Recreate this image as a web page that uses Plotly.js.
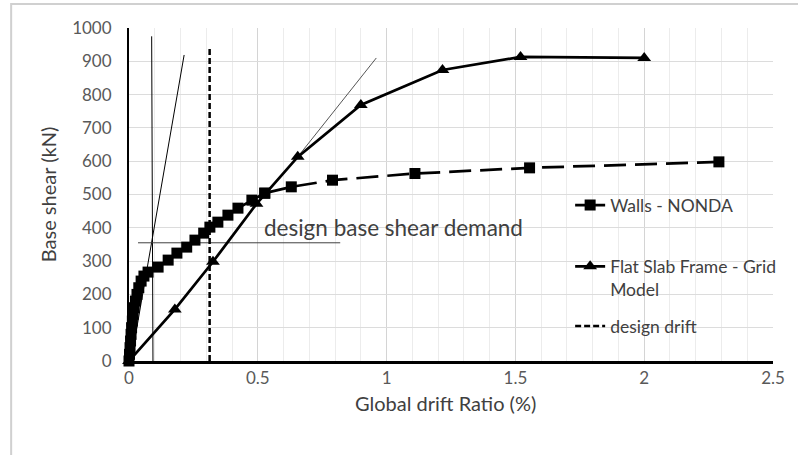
<!DOCTYPE html>
<html>
<head>
<meta charset="utf-8">
<script src="https://cdn.plot.ly/plotly-3.0.1.min.js"></script>
<style>html,body{margin:0;padding:0;background:#fff;}#chart{width:798px;height:455px;}</style>
</head>
<body>
<div id="chart"></div>
<script>
// Walls - NONDA (drift %, base shear kN)
const wallsX = [0, 0.002, 0.004, 0.006, 0.008, 0.010, 0.013, 0.016, 0.020, 0.025, 0.031, 0.038, 0.047, 0.058, 0.074, 0.113, 0.152, 0.186, 0.224, 0.256, 0.290, 0.314, 0.345, 0.384, 0.423, 0.477, 0.527, 0.630, 0.790, 1.110, 1.555, 2.290];
const wallsY = [0, 20, 40, 60, 80, 100, 120, 140, 160, 180, 200, 220, 240, 255, 267, 282, 303, 324, 342, 363, 384, 402, 417, 438, 459, 483, 504, 523, 543, 563, 580, 598];
const wallsSolidEnd = 26; // index where the dashed part begins

// Flat Slab Frame - Grid Model
const slabX = [0, 0.178, 0.326, 0.495, 0.655, 0.900, 1.217, 1.520, 2.000];
const slabY = [0, 155, 298, 472, 613, 769, 874, 913, 910];

// design drift
const driftX = [0.313, 0.313];
const driftY = [0, 940];

// reference stiffness lines
const tan1X = [0.093, 0.088];
const tan1Y = [0, 975];
const tan2X = [0.008, 0.214];
const tan2Y = [0, 919];
const tan3X = [0.655, 0.960];
const tan3Y = [613, 910];

// design base shear demand
const demandX = [0.035, 0.820];
const demandY = [355, 355];
const demandLabel = 'design base shear demand';
const demandLabelX = 0.515;
const demandLabelY = 402;

const xTitle = 'Global drift Ratio (%)';
const yTitle = 'Base shear (kN)';

const FONT = 'Lato, "Liberation Sans", sans-serif';
const txt = '#595959';

const traces = [
  {x: tan1X, y: tan1Y, mode: 'lines', line: {color: '#000', width: 1}, showlegend: false, hoverinfo: 'skip'},
  {x: tan2X, y: tan2Y, mode: 'lines', line: {color: '#000', width: 1}, showlegend: false, hoverinfo: 'skip'},
  {x: tan3X, y: tan3Y, mode: 'lines', line: {color: '#555', width: 1}, showlegend: false, hoverinfo: 'skip'},
  {x: demandX, y: demandY, mode: 'lines', line: {color: '#404040', width: 1}, showlegend: false, hoverinfo: 'skip'},
  {x: driftX, y: driftY, mode: 'lines', name: 'design drift', legend: 'legend3',
   line: {color: '#000', width: 2.5, dash: '6px,3px'}},
  {x: wallsX.slice(wallsSolidEnd), y: wallsY.slice(wallsSolidEnd), mode: 'lines+markers', showlegend: false,
   line: {color: '#000', width: 2.75, dash: '22px,9px'}, marker: {symbol: 'square', size: 11, color: '#000'}, cliponaxis: false},
  {x: wallsX.slice(0, wallsSolidEnd + 1), y: wallsY.slice(0, wallsSolidEnd + 1), mode: 'lines+markers', name: 'Walls - NONDA', legend: 'legend',
   line: {color: '#000', width: 2.75}, marker: {symbol: 'square', size: 11, color: '#000'}, cliponaxis: false},
  {x: slabX, y: slabY, mode: 'lines+markers', name: 'Flat Slab Frame - Grid<br>Model', legend: 'legend2',
   line: {color: '#000', width: 2.75}, marker: {symbol: 'triangle-up', size: 12, color: '#000'}, cliponaxis: false}
];

const legFont = {family: FONT, size: 17.5, color: '#404040'};
const layout = {
  width: 798, height: 455,
  margin: {l: 129, r: 25, t: 28, b: 94},
  paper_bgcolor: '#fff', plot_bgcolor: '#fff',
  font: {family: FONT, color: txt},
  showlegend: true,
  xaxis: {
    range: [0, 2.5], dtick: 0.5, tick0: 0, showgrid: true, gridcolor: '#d4d4d4', gridwidth: 1,
    minor: {dtick: 0.1, showgrid: true, gridcolor: '#ececec', gridwidth: 1},
    showline: true, linecolor: '#000', linewidth: 2.5, zeroline: false, ticks: '', ticklen: 0,
    tickfont: {family: FONT, size: 17, color: txt}, ticklabelstandoff: 0,
    fixedrange: true
  },
  yaxis: {
    range: [0, 1000], dtick: 100, tick0: 0, showgrid: true, gridcolor: '#dcdcdc', gridwidth: 1,
    showline: true, linecolor: '#000', linewidth: 2, zeroline: false, ticks: '',
    tickfont: {family: FONT, size: 17, color: txt}, ticklabelstandoff: 12,
    title: {text: yTitle, font: {family: FONT, size: 20, color: '#404040'}, standoff: 10},
    fixedrange: true
  },
  legend: {x: 0.685, y: 0.468, xanchor: 'left', yanchor: 'middle', bgcolor: 'rgba(0,0,0,0)', font: legFont},
  legend2: {x: 0.685, y: 0.338, xanchor: 'left', yanchor: 'top', valign: 'top', bgcolor: 'rgba(0,0,0,0)', font: legFont},
  legend3: {x: 0.685, y: 0.105, xanchor: 'left', yanchor: 'middle', bgcolor: 'rgba(0,0,0,0)', font: legFont},
  annotations: [
    {x: demandLabelX, y: demandLabelY, xref: 'x', yref: 'y', text: demandLabel, showarrow: false,
     xanchor: 'left', yanchor: 'middle', font: {family: FONT, size: 22.5, color: '#404040'}},
    {x: 0.492, y: -0.125, xref: 'paper', yref: 'paper', text: xTitle, showarrow: false,
     xanchor: 'center', yanchor: 'middle', font: {family: FONT, size: 20, color: '#404040'}}
  ],
  shapes: [
    {type: 'rect', xref: 'paper', yref: 'paper', x0: -0.183, x1: 1.3, y0: -0.5, y1: 1.072,
     line: {color: '#d0d0d0', width: 2}, fillcolor: 'rgba(0,0,0,0)', layer: 'below'}
  ]
};

Plotly.newPlot('chart', traces, layout, {displayModeBar: false, staticPlot: true});
</script>
</body>
</html>
